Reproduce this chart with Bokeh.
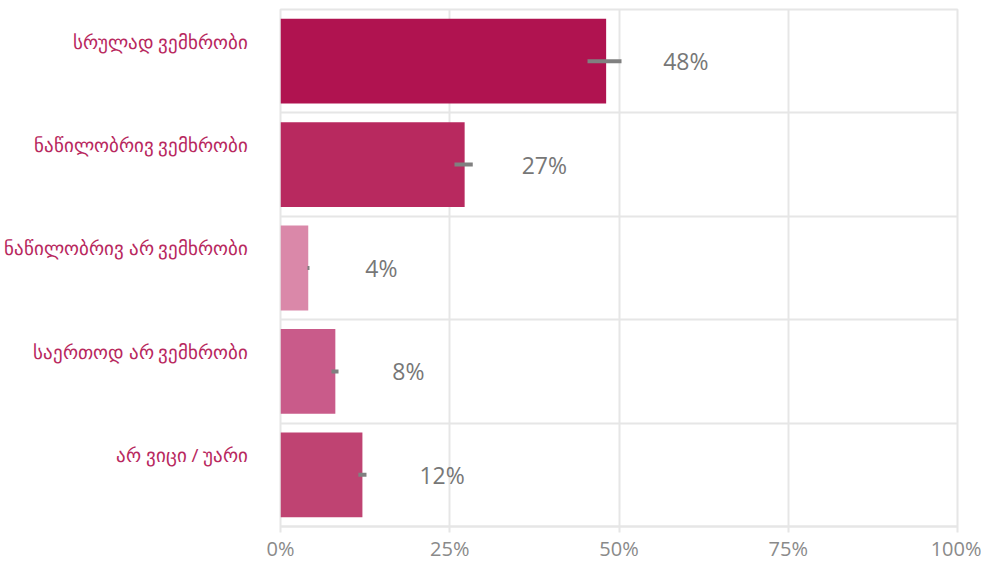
from bokeh.plotting import figure
from bokeh.models import ColumnDataSource, Range1d, FixedTicker, NumeralTickFormatter
from bokeh.embed import file_html
from bokeh.resources import INLINE
from bokeh.core.properties import value

categories = ["სრულად ვემხრობი", "ნაწილობრივ ვემხრობი", "ნაწილობრივ არ ვემხრობი",
              "საერთოდ არ ვემხრობი", "არ ვიცი / უარი"]
values = [0.481, 0.272, 0.041, 0.081, 0.121]
err_low = [0.4535, 0.257, 0.0398, 0.0753, 0.115]
err_high = [0.5037, 0.284, 0.0428, 0.0857, 0.127]
labels = ["48%", "27%", "4%", "8%", "12%"]
colors = ["#B01350", "#B8295F", "#DA88A9", "#C95B8A", "#BF4372"]

n = len(categories)
ypos = [n - 0.5 - i for i in range(n)]

src = ColumnDataSource(dict(y=ypos, v=values, lo=err_low, hi=err_high, lab=labels, c=colors))

p = figure(frame_width=677, frame_height=517, output_backend="svg", toolbar_location=None,
           x_range=Range1d(0, 1), y_range=Range1d(0, n),
           min_border_left=280, min_border_top=9, min_border_right=24, min_border_bottom=35)
p.outline_line_color = "#e6e6e6"
p.outline_line_width = 2
p.background_fill_color = "white"

p.hbar(y="y", right="v", left=0, height=0.82, fill_color="c", line_color=None, source=src)
p.segment(x0="lo", x1="hi", y0="y", y1="y", line_color="#808080", line_width=4, source=src)
p.text(x="v", y="y", text="lab", x_offset=57, text_align="left", text_baseline="middle",
       text_font=value("Open Sans"), text_font_size="23px", text_color="#777777", source=src)

# x axis
p.xaxis.ticker = FixedTicker(ticks=[0, 0.25, 0.5, 0.75, 1.0])
p.xaxis.formatter = NumeralTickFormatter(format="0%")
p.xaxis.axis_line_color = "#e6e6e6"
p.xaxis.axis_line_width = 2
p.xaxis.major_tick_line_color = "#e6e6e6"
p.xaxis.major_tick_line_width = 2
p.xaxis.major_tick_out = 6
p.xaxis.major_tick_in = 0
p.xaxis.minor_tick_line_color = None
p.xaxis.major_label_text_font = "Open Sans"
p.xaxis.major_label_text_font_size = "20px"
p.xaxis.major_label_text_color = "#8a8a8a"
p.xaxis.major_label_standoff = 2

# y axis: labels placed slightly above bar centre
label_ticks = [y + 0.19 for y in ypos]
p.yaxis.ticker = FixedTicker(ticks=label_ticks)
p.yaxis.major_label_overrides = {t: c for t, c in zip(label_ticks, categories)}
p.yaxis.axis_line_color = None
p.yaxis.major_tick_line_color = None
p.yaxis.minor_tick_line_color = None
p.yaxis.major_label_text_font = "Open Sans"
p.yaxis.major_label_text_font_size = "19px"
p.yaxis.major_label_text_color = "#B8285E"
p.yaxis.major_label_standoff = 26

# grids
p.xgrid.ticker = FixedTicker(ticks=[0, 0.25, 0.5, 0.75, 1.0])
p.xgrid.grid_line_color = "#e6e6e6"
p.xgrid.grid_line_width = 2
p.ygrid.ticker = FixedTicker(ticks=list(range(n + 1)))
p.ygrid.grid_line_color = "#e6e6e6"
p.ygrid.grid_line_width = 2

open("out.html", "w").write(file_html(p, INLINE))
